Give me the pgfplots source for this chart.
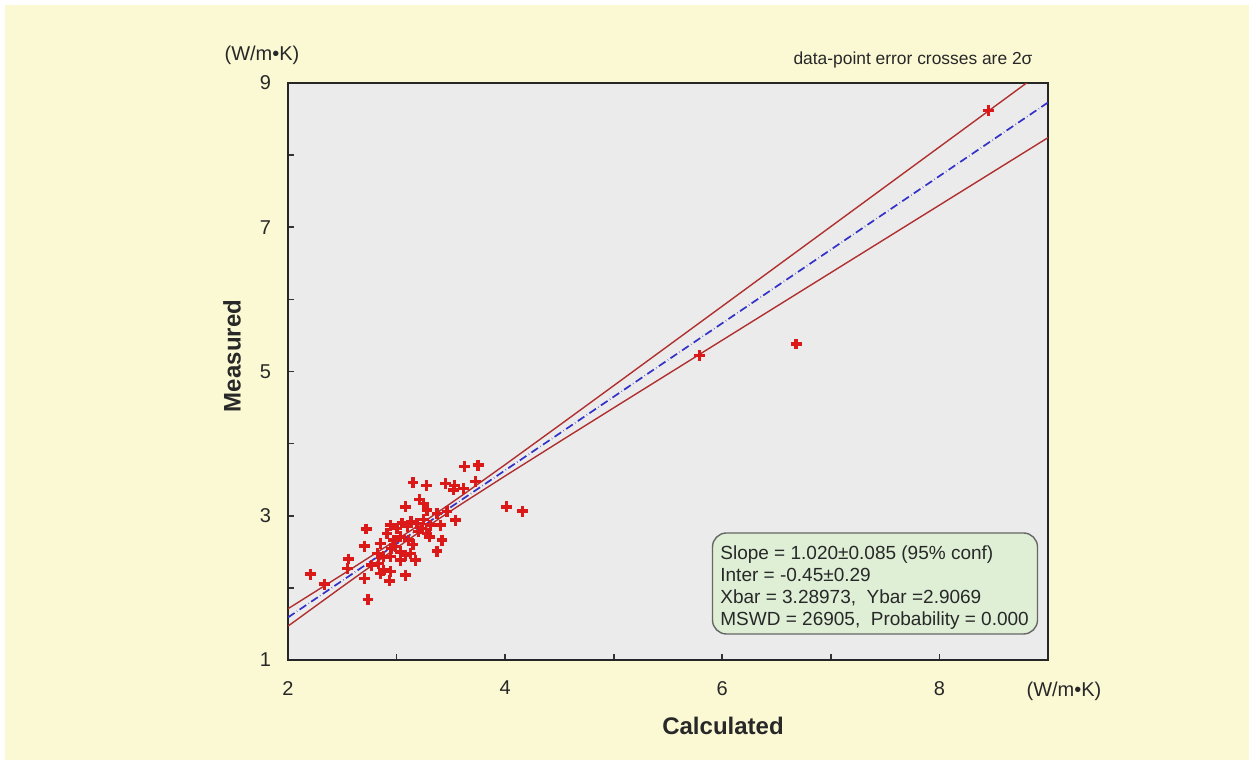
\documentclass[border=0pt]{standalone}
\usepackage{fontspec}
\setmainfont{Liberation Sans}
\usepackage{pgfplots}
\pgfplotsset{compat=1.18}
\definecolor{cream}{RGB}{250,249,212}
\definecolor{plotgray}{RGB}{235,235,235}
\definecolor{ptred}{RGB}{220,25,25}
\definecolor{envred}{RGB}{176,48,48}
\definecolor{regblue}{RGB}{50,50,200}
\definecolor{boxgreen}{RGB}{222,239,214}
\definecolor{txt}{RGB}{40,40,40}
\begin{document}
\begin{tikzpicture}
\fill[white] (-144pt,-52.5pt) rectangle (483pt,330pt);
\fill[cream] (-141.5pt,-50pt) rectangle (480.5pt,327.5pt);
\begin{axis}[
  at={(0pt,0pt)}, anchor=south west,
  scale only axis, width=380pt, height=288.5pt,
  xmin=2, xmax=9, ymin=1, ymax=9,
  axis background/.style={fill=plotgray},
  axis line style={draw=black!85, line width=0.9pt},
  xtick={2,4,6,8}, minor xtick={3,5,7},
  ytick={1,3,5,7,9}, minor ytick={2,4,6,8},
  tick pos=left, tick align=inside,
  major tick length=3pt, minor tick length=3pt,
  every tick/.style={draw=black!80, line width=0.8pt},
  /pgf/number format/assume math mode=true,
  ticklabel style={font=\fontsize{10}{12}\selectfont, text=txt},
  xticklabel style={yshift=-7pt},
  yticklabel style={xshift=-5pt},
  clip=true,
]
% regression line
\addplot[regblue, line width=0.85pt, dash pattern=on 4pt off 1.4pt on 0.2pt off 1.4pt]
  coordinates {(2,1.59) (9,8.73)};
% error envelope
\addplot[envred, line width=0.7pt] coordinates {
 (2,1.7105) (2.5,2.1837) (3,2.6657) (3.15,2.8144) (3.29,2.9558) (3.45,3.1208)
 (3.6,3.2785) (4,3.7084) (4.5,4.2544) (5,4.8037) (6,5.9057) (7,7.0093) (8,8.1135) (9,9.2179)};
\addplot[envred, line width=0.7pt] coordinates {
 (2,1.4695) (2.5,2.0163) (3,2.5543) (3.15,2.7116) (3.29,2.8558) (3.45,3.0172)
 (3.6,3.1655) (4,3.5516) (4.5,4.0256) (5,4.4963) (6,5.4343) (7,6.3707) (8,7.3065) (9,8.2421)};
% data points
\addplot[only marks, mark=+, mark size=2.7pt, mark options={ptred, line width=1.7pt}] coordinates {
 (2.209,2.19) (2.335,2.052) (2.736,1.839) (2.702,2.130) (2.548,2.269) (2.560,2.399)
 (2.720,2.815) (2.702,2.579) (3.083,2.177) (2.933,2.098) (2.880,2.246) (2.767,2.315)
 (2.825,2.477) (2.942,2.223) (2.850,2.616) (2.911,2.754) (2.942,2.870) (3.003,2.824)
 (3.034,2.708) (2.988,2.570) (3.034,2.500) (3.080,2.454) (3.127,2.477) (3.173,2.385)
 (3.111,2.662) (3.133,2.916) (3.080,3.124) (3.151,3.462) (3.274,3.416) (3.213,3.226)
 (3.250,3.171) (3.280,3.078) (3.234,2.824) (3.280,2.754) (3.305,2.708) (3.373,3.032)
 (3.404,2.870) (3.419,2.662) (3.373,2.509) (3.450,3.448) (3.536,3.416) (3.527,3.356)
 (3.619,3.379) (3.625,3.679) (3.751,3.702) (3.727,3.471) (3.542,2.939) (3.465,3.055)
 (4.013,3.124) (4.158,3.064) (2.942,2.431) (3.034,2.385) (2.834,2.338) (3.188,2.893)
 (3.311,2.870) (2.973,2.662) (2.88,2.43) (3.10,2.85) (3.20,2.78) (2.95,2.55)
 (3.05,2.90) (3.25,2.95) (2.85,2.20) (3.15,2.60)
 (5.79,5.22) (6.68,5.38) (8.45,8.62)};
\end{axis}
% axis titles and units
\node[font=\bfseries\fontsize{12}{14}\selectfont, text=txt] at (217.5pt,-33pt) {Calculated};
\node[font=\bfseries\fontsize{12}{14}\selectfont, text=txt, rotate=90] at (-28pt,152pt) {Measured};
\node[font=\fontsize{10}{12}\selectfont, text=txt] at (-13pt,302.5pt) {(W/m•K)};
\node[font=\fontsize{10}{12}\selectfont, text=txt] at (388pt,-15.5pt) {(W/m•K)};
\node[font=\fontsize{8.7}{10}\selectfont, text=txt] at (312.5pt,300pt) {data-point error crosses are 2σ};
% statistics box
\draw[rounded corners=7pt, fill=boxgreen, draw=black!60, line width=0.7pt] (212.25pt,13pt) rectangle (374.75pt,63.5pt);
\begin{scope}[every node/.style={anchor=base west, inner sep=0pt, font=\fontsize{9.5}{11}\selectfont, text=txt}]
\node at (216pt,50pt) {Slope = 1.020±0.085 (95\% conf)};
\node at (216pt,39pt) {Inter = -0.45±0.29};
\node at (216pt,28pt) {Xbar = 3.28973,\ \ Ybar =2.9069};
\node at (216pt,17pt) {MSWD = 26905,\ \ Probability = 0.000};
\end{scope}
\end{tikzpicture}
\end{document}
